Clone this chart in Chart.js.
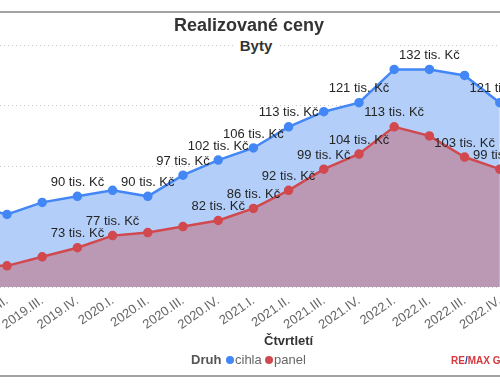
<!DOCTYPE html>
<html>
<head>
<meta charset="utf-8">
<title>Realizované ceny</title>
<script src="https://cdn.jsdelivr.net/npm/chart.js@4.4.1/dist/chart.umd.min.js"></script>
<style>
  html, body { margin:0; padding:0; background:#fff; }
  body { width:500px; height:383px; position:relative; overflow:hidden;
         font-family:"Liberation Sans", Arial, sans-serif; }
  .frame-line { position:absolute; left:0; width:500px; height:2px; background:#a3a3a3; }
  #chartWrap { position:absolute; left:-40px; top:0; width:700px; height:383px; }
  .title { position:absolute; left:0; width:498px; top:15px; text-align:center;
           font-size:18px; line-height:20px; font-weight:bold; color:#333; }
  .subtitle { position:absolute; left:0; width:512px; top:37px; text-align:center;
              font-size:15px; line-height:17px; font-weight:bold; color:#333; }
  .subtitle span { background:#fff; padding:0 7px; }
  .legend { position:absolute; top:352px; font-size:13px; line-height:15px; color:#666; }
  .legend b { color:#555; }
  .dot { position:absolute; top:356px; width:8px; height:8px; border-radius:50%; }
  .brand { position:absolute; left:451px; top:355px; font-size:10px; line-height:12px;
           font-weight:bold; color:#d7373f; white-space:nowrap; }
  .brand i { font-style:normal; color:#1f3d8c; }
</style>
</head>
<body>
  <div class="frame-line" style="top:11px;"></div>
  <div class="frame-line" style="top:375px;"></div>

  <div id="chartWrap"><canvas id="chartPrice"></canvas></div>

  <div class="title">Realizované ceny</div>
  <div class="subtitle"><span>Byty</span></div>

  <div class="legend" style="left:191px;"><b>Druh</b></div>
  <div class="dot" style="left:226px;background:#4287f5;"></div>
  <div class="legend" style="left:235px;">cihla</div>
  <div class="dot" style="left:265px;background:#d1494e;"></div>
  <div class="legend" style="left:274px;">panel</div>
  <div class="brand">RE<i>/</i>MAX G</div>

<script>
  // quarters (first and last ones lie outside the visible window)
  var QUARTERS = ['2019.I.','2019.II.','2019.III.','2019.IV.',
                  '2020.I.','2020.II.','2020.III.','2020.IV.',
                  '2021.I.','2021.II.','2021.III.','2021.IV.',
                  '2022.I.','2022.II.','2022.III.','2022.IV.',
                  '2023.I.','2023.II.','2023.III.'];

  // prices in tis. Kč
  var CIHLA = [87, 84, 88, 90, 92, 90, 97, 102, 106, 113, 118, 121, 132, 132, 130, 121, null, null, null];
  var PANEL = [67, 67, 70, 73, 77, 78, 80, 82, 86, 92, 99, 104, 113, 110, 103, 99, null, null, null];

  // which points carry a value label (the rest were hidden for overlap)
  var CIHLA_LABELED = [3, 5, 6, 7, 8, 9, 11, 13, 15];
  var PANEL_LABELED = [3, 4, 7, 8, 9, 10, 11, 12, 14, 15];

  var Y_TICKS = [60, 80, 100, 120, 140];

  var FONT = '"Liberation Sans", Arial, sans-serif';
  var BLUE = '#4287f5';
  var RED  = '#d1494e';

  // value labels above the points
  var pointLabels = {
    id: 'pointLabels',
    afterDatasetsDraw: function(chart) {
      var ctx = chart.ctx;
      ctx.save();
      ctx.font = '13px ' + FONT;
      ctx.fillStyle = '#252525';
      ctx.textAlign = 'center';
      ctx.textBaseline = 'middle';
      chart.data.datasets.forEach(function(ds, i) {
        var meta = chart.getDatasetMeta(i);
        ds.labeled.forEach(function(idx) {
          var pt = meta.data[idx];
          if (!pt || ds.data[idx] == null) return;
          ctx.fillText(ds.data[idx] + ' tis. Kč', pt.x, pt.y - 14);
        });
      });
      ctx.restore();
    }
  };

  new Chart(document.getElementById('chartPrice'), {
    type: 'line',
    data: {
      labels: QUARTERS,
      datasets: [{
        label: 'cihla',
        data: CIHLA,
        labeled: CIHLA_LABELED,
        borderColor: BLUE,
        backgroundColor: '#b3cff9',
        pointBackgroundColor: BLUE,
        pointBorderColor: BLUE,
        pointRadius: 3.5,
        borderWidth: 2.5,
        fill: 'start',
        order: 1
      }, {
        label: 'panel',
        data: PANEL,
        labeled: PANEL_LABELED,
        borderColor: RED,
        backgroundColor: '#bb98b4',
        pointBackgroundColor: RED,
        pointBorderColor: RED,
        pointRadius: 3.5,
        borderWidth: 2.5,
        fill: 'start',
        order: 0
      }]
    },
    options: {
      responsive: true, maintainAspectRatio: false,
      animation: false,
      layout: { padding: { left: 11.8, right: 54.6, top: 15, bottom: 30 } },
      plugins: { legend: { display: false }, title: { display: false }, tooltip: { enabled: false } },
      scales: {
        x: {
          grid: { display: false, drawTicks: false },
          border: { display: false },
          ticks: { color: '#666', font: { family: FONT, size: 13 }, autoSkip: false,
                   minRotation: 35, maxRotation: 35, padding: 6 },
          title: { display: true, text: 'Čtvrtletí', color: '#333',
                   font: { family: FONT, size: 13, weight: 'bold' } },
          afterFit: function(s) { s.height = 66; s.paddingLeft = 0; s.paddingRight = 0; }
        },
        y: {
          min: 60, max: 150,
          afterBuildTicks: function(s) { s.ticks = Y_TICKS.map(function(v) { return { value: v }; }); },
          grid: { color: '#c8c8c8', drawTicks: false, lineWidth: 1 },
          border: { display: false, dash: [1, 3] },
          ticks: { display: false },
          afterFit: function(s) { s.width = 0; }
        }
      }
    },
    plugins: [pointLabels]
  });
</script>
</body>
</html>
